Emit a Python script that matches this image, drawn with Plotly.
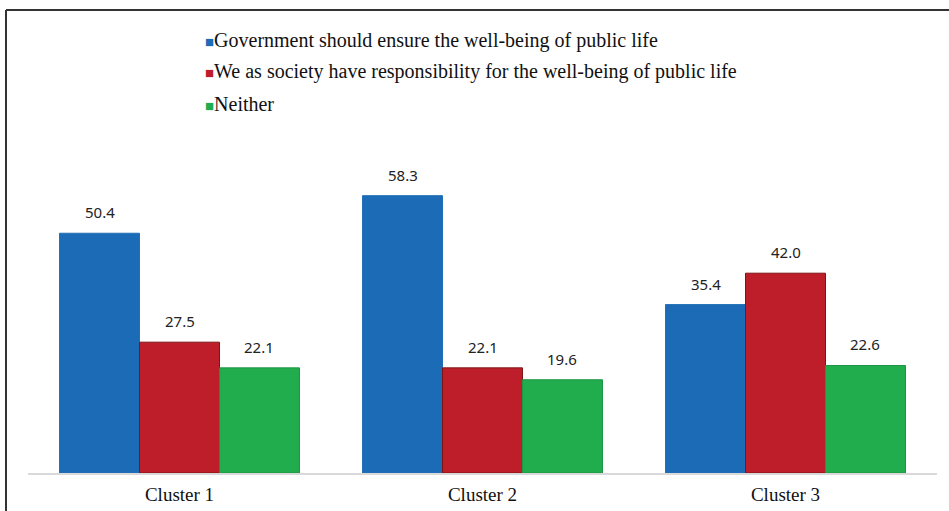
import plotly.graph_objects as go

# Survey shares (%) by cluster
clusters = ["Cluster 1", "Cluster 2", "Cluster 3"]
series_names = [
    "Government should ensure the well-being of public life",
    "We as society have responsibility for the well-being of public life",
    "Neither",
]
government = [50.4, 58.3, 35.4]
society = [27.5, 22.1, 42.0]
neither = [22.1, 19.6, 22.6]

series_values = [government, society, neither]
fill_colors = ["#1B6BB6", "#BE1E2A", "#21AC4D"]
edge_colors = ["#2270B6", "#7E1414", "#1C9443"]

W, H = 949, 511
M_L, M_R, M_T, M_B = 28, 12, 140, 38
BARGAP = 0.208
Y_MAX = 70

fig = go.Figure()
for name, vals, fc, ec in zip(series_names, series_values, fill_colors, edge_colors):
    fig.add_trace(go.Bar(
        x=clusters, y=vals, name=name,
        marker=dict(color=fc, line=dict(color=ec, width=1)),
        showlegend=False,
    ))

# value labels above each bar, centred on the bar's slot within its group
n = len(series_values)
slot = (1 - BARGAP) / n
annotations = []
for j, vals in enumerate(series_values):
    for i, v in enumerate(vals):
        annotations.append(dict(
            x=i + (j - (n - 1) / 2) * slot, y=v, xref="x", yref="y",
            text=f"{v:.1f}", showarrow=False, yanchor="middle", yshift=21,
            font=dict(family="Noto Sans", size=15, color="#222222"),
        ))

# legend entries stacked above the plot
plot_w = W - M_L - M_R
plot_h = H - M_T - M_B
leg_x = (203 - M_L) / plot_w
for k, (name, fc) in enumerate(zip(series_names, fill_colors)):
    y_px = 40 + 32 * k
    annotations.append(dict(
        x=leg_x, y=(H - M_B - y_px) / plot_h, xref="paper", yref="paper",
        xanchor="left", yanchor="middle", showarrow=False, align="left",
        text=f'<span style="color:{fc};font-size:15px">■</span>{name}',
        font=dict(family="Liberation Serif", size=20, color="#111111"),
    ))

# frame lines along the top and left edges of the page
def px_to_paper_x(px):
    return (px - M_L) / plot_w

def px_to_paper_y(py):
    return (H - M_B - py) / plot_h

shapes = [
    dict(type="line", xref="paper", yref="paper",
         x0=px_to_paper_x(6), x1=px_to_paper_x(6),
         y0=px_to_paper_y(10), y1=px_to_paper_y(530),
         line=dict(color="#333333", width=2)),
    dict(type="line", xref="paper", yref="paper",
         x0=px_to_paper_x(6), x1=px_to_paper_x(960),
         y0=px_to_paper_y(10), y1=px_to_paper_y(10),
         line=dict(color="#333333", width=2)),
]

fig.update_layout(
    width=W, height=H,
    margin=dict(l=M_L, r=M_R, t=M_T, b=M_B, pad=0),
    paper_bgcolor="white", plot_bgcolor="white",
    barmode="group", bargap=BARGAP, bargroupgap=0,
    annotations=annotations, shapes=shapes,
    xaxis=dict(
        showline=True, linecolor="#D9D9D9", linewidth=1.5,
        showgrid=False, ticks="", ticklabelstandoff=3, automargin=False,
        tickfont=dict(family="Liberation Serif", size=19, color="#111111"),
    ),
    yaxis=dict(range=[0, Y_MAX], visible=False, showgrid=False,
               zeroline=False, automargin=False),
)

fig.write_html("out.html")
